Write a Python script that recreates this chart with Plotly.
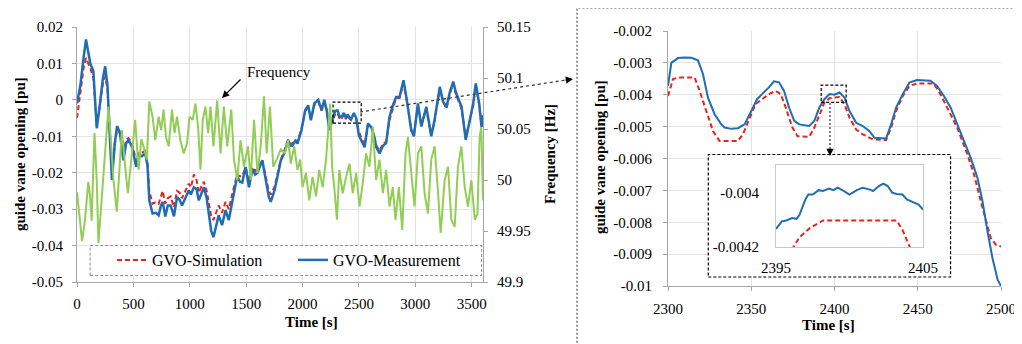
import plotly.graph_objects as go

# page has an 8px body margin: figure sits at (8, 8) in the 1022x344 window
OFF = 8
W, H = 1022 - OFF, 344 - OFF

# ---------------- data: left panel (whole test, 0-3600 s) ----------------
t_meas = [0, 30, 60, 80, 100, 120, 145, 175, 200, 230, 250, 270, 310, 335, 355, 380, 412, 435, 457, 490,
          525, 545, 575, 605, 625, 641, 670, 700, 724, 745, 760, 783, 805, 830, 860, 887, 910, 931, 960, 991,
          1010, 1036, 1060, 1080, 1100, 1125, 1150, 1170, 1190, 1210, 1235, 1256, 1286, 1317, 1346, 1376, 1395,
          1420, 1445, 1465, 1495, 1525, 1555, 1580, 1600, 1625, 1643, 1673, 1700, 1718, 1750, 1777, 1807, 1843,
          1872, 1890, 1910, 1935, 1955, 1990, 2024, 2050, 2074, 2104, 2139, 2169, 2193, 2215, 2237, 2267, 2290,
          2310, 2330, 2350, 2366, 2385, 2400, 2420, 2430, 2455, 2475, 2500, 2550, 2580, 2610, 2635, 2654, 2683,
          2713, 2741, 2771, 2800, 2830, 2860, 2895, 2924, 2964, 2987, 3023, 3053, 3097, 3120, 3141, 3170, 3217,
          3246, 3276, 3305, 3336, 3360, 3380, 3410, 3447, 3483, 3513, 3536, 3566, 3587, 3600]
gvo_meas = [-0.001, 0.004, 0.012, 0.0166, 0.013, 0.0098, 0.008, -0.0078, -0.002, 0.006, 0.0092, 0.004, -0.022,
            -0.012, -0.0072, -0.009, -0.0166, -0.012, -0.011, -0.013, -0.0184, -0.015, -0.0155, -0.0147, -0.018,
            -0.0276, -0.0312, -0.031, -0.0317, -0.029, -0.028, -0.032, -0.029, -0.029, -0.032, -0.0267, -0.0275,
            -0.029, -0.027, -0.0248, -0.026, -0.024, -0.0245, -0.0276, -0.026, -0.024, -0.027, -0.031, -0.036,
            -0.0377, -0.034, -0.0317, -0.0344, -0.0303, -0.033, -0.028, -0.0248, -0.021, -0.0225, -0.0227,
            -0.0184, -0.024, -0.019, -0.0205, -0.020, -0.018, -0.0166, -0.0218, -0.0265, -0.028, -0.025, -0.0212,
            -0.0166, -0.0143, -0.011, -0.0125, -0.0126, -0.0112, -0.012, -0.0083, -0.0028, -0.0015, -0.0056,
            -0.001, 0.0, -0.0028, 0.0, -0.003, -0.0083, -0.005, -0.003, -0.0029, -0.0048, -0.0045, -0.0036,
            -0.005, -0.004, -0.0051, -0.0054, -0.0036, -0.005, -0.0098, -0.013, -0.0065, -0.0075, -0.010, -0.013,
            -0.0147, -0.0126, -0.0119, -0.0047, -0.0015, 0.0008, 0.0008, 0.0054, 0.0, -0.0083, -0.010, -0.001,
            -0.0073, -0.0019, -0.006, -0.010, -0.0056, 0.0036, -0.0005, -0.0019, 0.002, 0.005, 0.002, 0.0005,
            -0.0019, -0.011, -0.0056, -0.001, 0.0045, -0.001, -0.0074, -0.0042]

t_sim = list(t_meas)
gvo_sim = [-0.005, 0.002, 0.009, 0.0115, 0.010, 0.0085, 0.006, -0.007, -0.002, 0.0045, 0.0065, 0.003, -0.020,
           -0.012, -0.0085, -0.009, -0.015, -0.011, -0.0105, -0.012, -0.017, -0.0145, -0.0145, -0.014, -0.017,
           -0.025, -0.0285, -0.028, -0.0285, -0.026, -0.025, -0.0285, -0.027, -0.0265, -0.0295, -0.025, -0.0255,
           -0.027, -0.025, -0.023, -0.024, -0.0205, -0.022, -0.0255, -0.024, -0.0225, -0.025, -0.0285, -0.032,
           -0.033, -0.031, -0.029, -0.031, -0.028, -0.030, -0.0265, -0.0235, -0.0205, -0.021, -0.021, -0.0185,
           -0.0225, -0.0185, -0.0195, -0.019, -0.0175, -0.0165, -0.021, -0.025, -0.026, -0.024, -0.0205, -0.0165,
           -0.0135, -0.011, -0.012, -0.012, -0.011, -0.0115, -0.008, -0.003, -0.002, -0.0055, -0.0015, -0.0005,
           -0.003, -0.0005, -0.003, -0.0075, -0.006, -0.0038, -0.0036, -0.0054, -0.005, -0.004, -0.0053, -0.0041,
           -0.0053, -0.0054, -0.0037, -0.005, -0.0088, -0.0125, -0.007, -0.0075, -0.010, -0.0125, -0.014, -0.012,
           -0.0115, -0.0055, -0.0025, 0.0005, 0.0005, 0.0045, 0.0, -0.0085, -0.0095, -0.0015, -0.007, -0.0025,
           -0.0065, -0.0095, -0.006, 0.003, -0.0005, -0.0025, 0.0015, 0.0045, 0.0015, 0.0, -0.0025, -0.0105,
           -0.006, -0.0015, 0.004, -0.0015, -0.007, -0.0045]

t_freq = [0, 20, 45, 70, 100, 115, 130, 155, 175, 190, 215, 250, 279, 300, 323, 353, 375, 398, 427, 451, 487,
          516, 546, 570, 590, 620, 641, 670, 694, 724, 746, 768, 789, 813, 842, 865, 887, 917, 946, 976, 997,
          1026, 1050, 1074, 1095, 1115, 1139, 1163, 1184, 1210, 1243, 1273, 1302, 1332, 1368, 1392, 1421, 1450,
          1480, 1516, 1540, 1570, 1600, 1629, 1658, 1682, 1711, 1740, 1770, 1807, 1842, 1872, 1896, 1926, 1955,
          1979, 2000, 2030, 2059, 2089, 2119, 2148, 2178, 2208, 2245, 2262, 2281, 2305, 2326, 2356, 2386, 2416,
          2445, 2475, 2505, 2534, 2563, 2593, 2623, 2652, 2682, 2712, 2741, 2771, 2800, 2824, 2854, 2884, 2913,
          2934, 2964, 2993, 3023, 3053, 3082, 3112, 3141, 3171, 3200, 3225, 3260, 3290, 3319, 3349, 3378, 3408,
          3438, 3467, 3497, 3527, 3551, 3570, 3585, 3600]
freq = [49.988, 49.965, 49.94, 49.96, 49.998, 49.985, 49.96, 50.046, 50.0, 49.938, 49.975, 50.03, 50.072, 50.04,
        50.0, 49.969, 50.01, 50.049, 50.013, 49.987, 50.026, 50.059, 50.01, 50.04, 50.033, 50.02, 50.077, 50.062,
        50.039, 50.062, 50.049, 50.069, 50.042, 50.033, 50.069, 50.046, 50.062, 50.039, 50.026, 50.036, 50.062,
        50.059, 50.075, 50.052, 50.01, 50.059, 50.072, 50.046, 50.072, 50.033, 50.078, 50.026, 50.072, 50.033,
        50.069, 50.02, 50.0, 50.039, 50.013, 50.033, 50.0, 50.059, 50.007, 50.033, 50.082, 50.026, 50.072, 50.013,
        50.02, 50.03, 50.026, 50.039, 50.016, 50.033, 50.01, 50.02, 49.993, 50.007, 49.98, 50.003, 49.984, 50.01,
        49.993, 50.02, 50.075, 50.013, 49.993, 49.961, 50.01, 49.987, 50.003, 50.016, 49.987, 50.007, 49.974,
        49.997, 50.026, 50.013, 50.052, 50.0, 50.02, 49.987, 50.01, 49.974, 49.993, 49.961, 49.993, 49.951, 50.026,
        50.042, 50.007, 49.974, 50.026, 50.033, 49.987, 49.967, 50.02, 50.033, 49.99, 49.948, 50.0, 50.013, 49.961,
        49.954, 50.013, 50.033, 49.993, 49.974, 50.0, 49.961, 49.967, 50.042, 50.052, 49.98]

# ---------------- data: right panel (2300-2500 s) ----------------
tz_meas = [2300, 2302, 2306, 2310, 2314, 2318, 2321, 2324, 2328, 2332, 2334, 2338, 2342, 2346, 2350, 2353.5,
           2356.5, 2360.6, 2363.6, 2366.7, 2369.7, 2372.7, 2375.8, 2378.8, 2384.8, 2387.9, 2390.9, 2393.9, 2397,
           2400, 2403, 2406, 2409, 2413, 2417, 2421, 2424, 2431, 2434, 2437, 2441, 2445, 2449.5, 2457.6, 2461.6,
           2465.7, 2469.7, 2473.7, 2477.8, 2481.8, 2485.9, 2488.9, 2491.9, 2494.9, 2498, 2500]
gz_meas = [-0.00372, -0.00300, -0.00285, -0.00283, -0.00284, -0.00292, -0.00335, -0.00409, -0.00461, -0.00493,
           -0.00503, -0.00507, -0.00505, -0.00493, -0.00451, -0.00414, -0.00398, -0.00377, -0.00358, -0.00361,
           -0.00388, -0.00440, -0.00482, -0.00493, -0.00498, -0.00482, -0.00440, -0.00414, -0.00398, -0.00400,
           -0.00393, -0.00409, -0.00451, -0.00488, -0.00498, -0.00514, -0.00535, -0.00537, -0.00493, -0.00440,
           -0.00398, -0.00362, -0.00354, -0.00356, -0.00372, -0.00404, -0.00440, -0.00493, -0.00545, -0.00598,
           -0.00661, -0.00735, -0.00829, -0.00913, -0.00981, -0.01000]
tz_sim = [2300, 2303, 2306, 2316, 2319, 2323, 2327, 2331, 2342, 2345, 2348.5, 2352.5, 2356.5, 2360.6, 2364.6,
          2367.7, 2370.7, 2374.7, 2377.8, 2384.8, 2387.9, 2390.9, 2393.9, 2397, 2403, 2406, 2409, 2413, 2417, 2423,
          2431, 2434, 2437, 2441, 2445, 2449.5, 2459.6, 2463.6, 2467.7, 2473.7, 2479.8, 2483.8, 2487.9, 2490.9,
          2493.9, 2497, 2500]
gz_sim = [-0.00404, -0.00351, -0.00346, -0.00346, -0.00388, -0.00451, -0.00514, -0.00545, -0.00545, -0.00524,
          -0.00482, -0.00430, -0.00414, -0.00398, -0.00388, -0.00398, -0.00440, -0.00503, -0.00530, -0.00532,
          -0.00503, -0.00461, -0.00425, -0.00411, -0.00407, -0.00430, -0.00472, -0.00509, -0.00524, -0.00540,
          -0.00542, -0.00503, -0.00451, -0.00404, -0.00372, -0.00365, -0.00365, -0.00398, -0.00440, -0.00503,
          -0.00587, -0.00650, -0.00735, -0.00797, -0.00850, -0.00871, -0.00876]

# ---------------- data: inset (2395-2405 s) ----------------
ti_meas = [2395.0, 2395.4, 2395.7, 2396.1, 2396.4, 2396.6, 2397.0, 2397.2, 2397.5, 2397.9, 2398.2, 2398.6,
           2398.9, 2399.2, 2399.6, 2400.0, 2400.5, 2400.9, 2401.4, 2401.6, 2402.0, 2402.3, 2402.6, 2402.9, 2403.2,
           2403.6, 2403.9, 2404.3, 2404.7, 2405.0]
gi_meas = [-0.004134, -0.004106, -0.004103, -0.004094, -0.004097, -0.004082, -0.004026, -0.004008, -0.004008,
           -0.003992, -0.003995, -0.003986, -0.003992, -0.003983, -0.003995, -0.004008, -0.003992, -0.003983,
           -0.003990, -0.003995, -0.003977, -0.003968, -0.003977, -0.004001, -0.004006, -0.004008, -0.004026,
           -0.004036, -0.004045, -0.004063]
ti_sim = [2395.5, 2396.2, 2396.6, 2397.3, 2398.2, 2403.2, 2403.6, 2404.1, 2404.5]
gi_sim = [-0.00426, -0.00420, -0.004164, -0.004131, -0.004103, -0.004103, -0.004137, -0.00420, -0.00426]

# ---------------- tick labels ----------------
xl_vals = [0, 500, 1000, 1500, 2000, 2500, 3000, 3500]
xl_text = ["0", "500", "1000", "1500", "2000", "2500", "3000", "3500"]
yl_vals = [0.02, 0.01, 0.0, -0.01, -0.02, -0.03, -0.04, -0.05]
yl_text = ["0.02", "0.01", "0", "-0.01", "-0.02", "-0.03", "-0.04", "-0.05"]
yf_vals = [50.15, 50.1, 50.05, 50.0, 49.95, 49.9]
yf_text = ["50.15", "50.1", "50.05", "50", "49.95", "49.9"]
xr_vals = [2300, 2350, 2400, 2450, 2500]
xr_text = ["2300", "2350", "2400", "2450", "2500"]
yr_vals = [-0.002, -0.003, -0.004, -0.005, -0.006, -0.007, -0.008, -0.009, -0.01]
yr_text = ["-0.002", "-0.003", "-0.004", "-0.005", "-0.006", "-0.007", "-0.008", "-0.009", "-0.01"]
xi_vals = [2395, 2405]
xi_text = ["2395", "2405"]
yi_vals = [-0.004, -0.0042]
yi_text = ["-0.004", "-0.0042"]

# ---------------- styling ----------------
FONT = "Liberation Serif"
BLUE = "#1F6DB5"
RED = "#E8231E"
GREEN = "#92CD55"
GRID = "#E3E3E3"
AXL = "#A6A6A6"
RED_DASH = "5px,3px"


def fx(px):
    return (px - OFF) / W


def fy(py):
    return 1 - (py - OFF) / H


# plot-area pixel boxes (window coordinates)
L = dict(x0=77, x1=483, y0=27, y1=282)
R = dict(x0=668, x1=1001, y0=31, y1=286)
I = dict(x0=776, x1=923, y0=165, y1=247)

fig = go.Figure()

fig.add_trace(go.Scatter(x=t_sim, y=gvo_sim, mode="lines", name="GVO-Simulation",
                         line=dict(color=RED, width=2, dash=RED_DASH), xaxis="x", yaxis="y"))
fig.add_trace(go.Scatter(x=t_meas, y=gvo_meas, mode="lines", name="GVO-Measurement",
                         line=dict(color=BLUE, width=2.5), xaxis="x", yaxis="y"))
fig.add_trace(go.Scatter(x=t_freq, y=freq, mode="lines", name="Frequency", showlegend=False,
                         line=dict(color=GREEN, width=2), xaxis="x", yaxis="y2"))

fig.add_trace(go.Scatter(x=tz_sim, y=gz_sim, mode="lines", showlegend=False,
                         line=dict(color=RED, width=2, dash=RED_DASH), xaxis="x3", yaxis="y3"))
fig.add_trace(go.Scatter(x=tz_meas, y=gz_meas, mode="lines", showlegend=False,
                         line=dict(color=BLUE, width=2), xaxis="x3", yaxis="y3"))

fig.add_trace(go.Scatter(x=ti_sim, y=gi_sim, mode="lines", showlegend=False,
                         line=dict(color=RED, width=2, dash=RED_DASH), xaxis="x4", yaxis="y4"))
fig.add_trace(go.Scatter(x=ti_meas, y=gi_meas, mode="lines", showlegend=False,
                         line=dict(color=BLUE, width=2), xaxis="x4", yaxis="y4"))

tick_font = dict(family=FONT, size=15, color="black")

common_axis = dict(tickfont=tick_font, showline=True, linecolor=AXL, linewidth=1,
                   ticks="outside", ticklen=4, tickcolor=AXL, zeroline=False)

fig.update_layout(
    width=W, height=H, autosize=False,
    template="none",
    margin=dict(l=0, r=0, t=0, b=0),
    paper_bgcolor="white", plot_bgcolor="white",
    showlegend=True,
    legend=dict(orientation="h", x=fx(112), y=fy(260), xanchor="left", yanchor="middle",
                font=dict(family=FONT, size=16, color="black"), bgcolor="rgba(0,0,0,0)",
                borderwidth=0, entrywidth=136, entrywidthmode="pixels"),
    xaxis=dict(domain=[fx(L["x0"]), fx(L["x1"])], range=[0, 3600], tickvals=xl_vals, ticktext=xl_text,
               showgrid=True, gridcolor=GRID, anchor="y", ticklabelstandoff=4, **common_axis),
    yaxis=dict(domain=[fy(L["y1"]), fy(L["y0"])], range=[-0.05, 0.02], tickvals=yl_vals, ticktext=yl_text,
               showgrid=True, gridcolor=GRID, anchor="x", ticklabelstandoff=6, **common_axis),
    yaxis2=dict(domain=[fy(L["y1"]), fy(L["y0"])], range=[49.9, 50.15], tickvals=yf_vals, ticktext=yf_text,
                overlaying="y", side="right", anchor="x", showgrid=False, ticklabelstandoff=6, **common_axis),
    xaxis3=dict(domain=[fx(R["x0"]), fx(R["x1"])], range=[2300, 2500], tickvals=xr_vals, ticktext=xr_text,
                showgrid=True, gridcolor=GRID, anchor="y3", ticklabelstandoff=5, **common_axis),
    yaxis3=dict(domain=[fy(R["y1"]), fy(R["y0"])], range=[-0.01, -0.002], tickvals=yr_vals, ticktext=yr_text,
                showgrid=True, gridcolor=GRID, anchor="x3", ticklabelstandoff=8, **common_axis),
    xaxis4=dict(domain=[fx(I["x0"]), fx(I["x1"])], range=[2395, 2405], tickvals=xi_vals, ticktext=xi_text,
                showgrid=False, anchor="y4", tickfont=tick_font, showline=True, mirror=True,
                linecolor="#C8C8C8", ticks="", zeroline=False, ticklabelstandoff=7),
    yaxis4=dict(domain=[fy(I["y1"]), fy(I["y0"])], range=[-0.0042, -0.0039], tickvals=yi_vals, ticktext=yi_text,
                showgrid=False, anchor="x4", tickfont=tick_font, showline=True, mirror=True,
                linecolor="#C8C8C8", ticks="", zeroline=False, ticklabelstandoff=13),
)

shapes = []
# legend box (white, dashed) on left panel, in data units of the left axes
shapes.append(dict(type="rect", xref="x", yref="y", layer="between", x0=116, x1=3588, y0=-0.0482, y1=-0.0400,
                   fillcolor="white", line=dict(color="#8C8C8C", width=1, dash="3px,2px")))
# zoom rectangle on left panel
shapes.append(dict(type="rect", xref="x", yref="y", x0=2270, x1=2520, y0=-0.0064, y1=-0.0006,
                   line=dict(color="black", width=1.2, dash="3px,2px")))
# connector from left zoom box to right panel
shapes.append(dict(type="line", xref="paper", yref="paper", x0=fx(360), y0=fy(112), x1=fx(566), y1=fy(80),
                   line=dict(color="#333333", width=1.2, dash="3px,3px")))
# big dotted frame around right panel
shapes.append(dict(type="rect", xref="paper", yref="paper", x0=fx(577), x1=1.02, y0=-0.05, y1=fy(8),
                   line=dict(color="#555555", width=1.2, dash="2px,2px")))
# inset white box on right panel (data units of the right axes)
shapes.append(dict(type="rect", xref="x3", yref="y3", layer="between", x0=2324.2, x1=2469.7,
                   y0=-0.009717, y1=-0.005874, fillcolor="white",
                   line=dict(color="black", width=1.2, dash="3px,2px")))
# small zoom rectangle on right panel
shapes.append(dict(type="rect", xref="x3", yref="y3", x0=2392, x1=2407, y0=-0.00424, y1=-0.0037,
                   line=dict(color="black", width=1.2, dash="3px,2px")))
# dashed arrow stem down to inset
shapes.append(dict(type="line", xref="paper", yref="paper", x0=fx(830), y0=fy(103), x1=fx(830), y1=fy(150),
                   line=dict(color="#333333", width=1.2, dash="2px,2px")))
fig.update_layout(shapes=shapes)

title_font = dict(family=FONT, size=15, color="black")
ann = []
ann.append(dict(text="<b>guide vane opening [pu]</b>", x=fx(20), y=fy(154), xref="paper", yref="paper",
                textangle=-90, showarrow=False, font=title_font, xanchor="center", yanchor="middle"))
ann.append(dict(text="<b>Frequency [Hz]</b>", x=fx(550), y=fy(154), xref="paper", yref="paper",
                textangle=-90, showarrow=False, font=title_font, xanchor="center", yanchor="middle"))
ann.append(dict(text="<b>Time [s]</b>", x=fx(311), y=fy(322), xref="paper", yref="paper",
                showarrow=False, font=title_font, xanchor="center", yanchor="middle"))
ann.append(dict(text="<b>guide vane opening [pu]</b>", x=fx(600), y=fy(157), xref="paper", yref="paper",
                textangle=-90, showarrow=False, font=title_font, xanchor="center", yanchor="middle"))
ann.append(dict(text="<b>Time [s]</b>", x=fx(828), y=fy(325), xref="paper", yref="paper",
                showarrow=False, font=title_font, xanchor="center", yanchor="middle"))
# Frequency label + arrow
ann.append(dict(text="Frequency", x=fx(245), y=fy(72), xref="paper", yref="paper", showarrow=False,
                font=dict(family=FONT, size=15, color="black"), xanchor="left", yanchor="middle"))
ann.append(dict(text="", x=fx(222), y=fy(98), xref="paper", yref="paper", showarrow=True,
                ax=20, ay=-20, arrowhead=2, arrowsize=1.2, arrowwidth=1.2, arrowcolor="black"))
# arrowhead at end of connector
ann.append(dict(text="", x=fx(573), y=fy(79), xref="paper", yref="paper", showarrow=True,
                ax=-9, ay=1.4, arrowhead=2, arrowsize=1.2, arrowwidth=1.2, arrowcolor="black"))
# arrowhead down to inset
ann.append(dict(text="", x=fx(830), y=fy(156), xref="paper", yref="paper", showarrow=True,
                ax=0, ay=-8, arrowhead=2, arrowsize=1.2, arrowwidth=1.2, arrowcolor="black"))
fig.update_layout(annotations=ann)

fig.write_html("out.html")
